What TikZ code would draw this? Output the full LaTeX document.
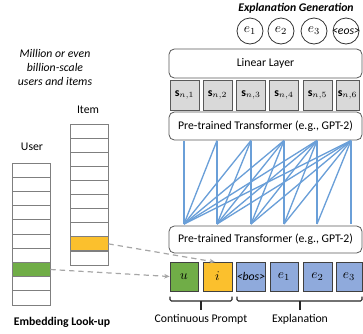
\documentclass[tikz,border=0pt]{standalone}
\usepackage{fontspec}
\setmainfont{Carlito}
\usetikzlibrary{arrows.meta}
\definecolor{tgreen}{HTML}{70AD47}
\definecolor{tyellow}{HTML}{FBC02D}
\definecolor{tblue}{HTML}{8FAADC}
\definecolor{sfill}{HTML}{D9D9D9}
\definecolor{sdraw}{HTML}{595959}
\definecolor{boxdraw}{HTML}{595959}
\definecolor{attn}{HTML}{6A9FD8}
\definecolor{dashgray}{HTML}{A6A6A6}
\definecolor{celldraw}{HTML}{7F7F7F}
\begin{document}
\begin{tikzpicture}[x=0.75pt,y=-0.75pt,font=\fontsize{8.8}{10}\selectfont,
  rbox/.style={draw=boxdraw,rounded corners=4pt,line width=0.6pt,fill=white,inner sep=0pt},
  sbox/.style={draw=sdraw,fill=sfill,line width=0.6pt,minimum height=22.5pt,inner sep=0pt},
  tok/.style={draw=black!75,line width=0.6pt,minimum height=21.75pt,inner sep=0pt,font=\fontsize{9.6}{11}\selectfont},
  outc/.style={circle,draw=black!80,line width=0.6pt,minimum size=19.5pt,inner sep=0pt,font=\fontsize{9.6}{11}\selectfont},
  cell/.style={draw=celldraw,line width=0.6pt,minimum width=28.5pt,minimum height=10.6pt,inner sep=0pt},
  attnline/.style={draw=attn,line width=1pt},
  dasharrow/.style={draw=dashgray,line width=0.9pt,dash pattern=on 4pt off 3pt,-{Stealth[length=4pt,width=3.5pt]}},
  bracket/.style={draw=black!85,line width=0.8pt,rounded corners=1pt}]
\useasboundingbox (0,0) rectangle (363,333);
\begin{scope}
\clip (0,0) rectangle (363,333);
% title
\node[font=\fontsize{8.8}{10}\selectfont\bfseries\itshape] (title) at (296,8) {Explanation Generation};
% output circles
\node[outc] (o1) at (250,31) {$e_1$};
\node[outc] (o2) at (281,31) {$e_2$};
\node[outc] (o3) at (314,31) {$e_3$};
\node[outc] (o4) at (346,31) {};
\node[font=\fontsize{8.8}{10}\selectfont\itshape] (o4t) at (o4.center) {<eos>};
% linear layer
\node[rbox,minimum width=144.75pt,minimum height=21.75pt] (lin) at (265.5,63.5) {Linear Layer};
% hidden states
\node[sbox,minimum width=21.75pt] (s1) at (184.5,95) {$\mathbf{s}_{n,1}$};
\node[sbox,minimum width=21.75pt] (s2) at (217.5,95) {$\mathbf{s}_{n,2}$};
\node[sbox,minimum width=21.75pt] (s3) at (251,95) {$\mathbf{s}_{n,3}$};
\node[sbox,minimum width=21.75pt] (s4) at (284,95) {$\mathbf{s}_{n,4}$};
\node[sbox,minimum width=21.75pt] (s5) at (317.5,95) {$\mathbf{s}_{n,5}$};
\node[sbox,minimum width=17.25pt] (s6) at (347.5,95) {$\mathbf{s}_{n,6}$};
% transformers
\node[rbox,minimum width=144.75pt,minimum height=21pt] (ttop) at (265.5,126) {Pre-trained Transformer (e.g., GPT-2)};
\node[rbox,minimum width=144.75pt,minimum height=20.25pt] (tbot) at (265.5,239.5) {Pre-trained Transformer (e.g., GPT-2)};
% attention coordinates
\foreach \k/\x in {1/184,2/217,3/251,4/284,5/317,6/351}{
  \coordinate (t\k) at (\x,140.5);
  \coordinate (b\k) at (\x,224);
}
\foreach \j in {1,...,6}{
  \foreach \i in {\j,...,6}{
    \draw[attnline] (b\j) -- (t\i);
  }
}
% input tokens
\node[tok,fill=tgreen,minimum width=21pt] (utok) at (184,276.5) {$u$};
\node[tok,fill=tyellow,minimum width=21.75pt] (itok) at (217.5,276.5) {$i$};
\node[tok,fill=tblue,minimum width=21pt,font=\fontsize{8.8}{10}\selectfont] (bos) at (251,276.5) {\textit{<bos>}};
\node[tok,fill=tblue,minimum width=21pt] (x1) at (284,276.5) {$e_1$};
\node[tok,fill=tblue,minimum width=21.75pt] (x2) at (317.5,276.5) {$e_2$};
\node[tok,fill=tblue,minimum width=19.5pt] (x3) at (349,276.5) {$e_3$};
% brackets
\coordinate (cpl) at (170,296.5);
\coordinate (cpr) at (232,296.5);
\coordinate (cpm) at (201,301);
\coordinate (cpt) at (201,310);
\draw[bracket] (cpl) |- (cpr |- cpm) -- (cpr);
\draw[bracket] (cpm) -- (cpt);
\coordinate (exl) at (237,296.5);
\coordinate (exr) at (362,296.5);
\coordinate (exm) at (300,301);
\coordinate (ext) at (300,310);
\draw[bracket] (exl) |- (exr |- exm) -- (exr);
\draw[bracket] (exm) -- (ext);
\node (cplab) at (201,319) {Continuous Prompt};
\node (exlab) at (300,319) {Explanation};
% left texts
\node[align=center,font=\fontsize{8.8}{10.5}\selectfont\itshape] (mill) at (55,67) {Million or even\\billion-scale\\users and items};
\node (itemlab) at (88,110) {Item};
\node (userlab) at (32,147) {User};
\node[font=\fontsize{8.8}{10}\selectfont\bfseries] (emb) at (62,322) {Embedding Look-up};
% columns
\foreach \r in {1,...,10}{
  \pgfmathsetmacro{\yy}{124+14.1*(\r-0.5)}
  \ifnum\r=9
    \node[cell,fill=tyellow] (it\r) at (89,\yy) {};
  \else
    \node[cell] (it\r) at (89,\yy) {};
  \fi
  \pgfmathsetmacro{\yu}{163+14.2*(\r-0.5)}
  \ifnum\r=8
    \node[cell,fill=tgreen] (us\r) at (31,\yu) {};
  \else
    \node[cell] (us\r) at (31,\yu) {};
  \fi
}
% dashed arrows
\coordinate (iin) at (215,262);
\draw[dasharrow] (it9.east) -- (iin);
\draw[dasharrow] (us8.east) -- (utok.west);
\end{scope}
\end{tikzpicture}
\end{document}
